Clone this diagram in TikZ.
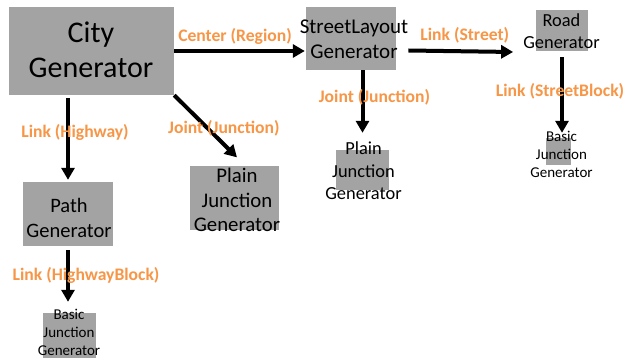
\documentclass[tikz,border=0pt]{standalone}
\usepackage{fontspec}
\setmainfont{Carlito}
\usepackage{tikz}
\usetikzlibrary{arrows.meta,positioning,calc}
\definecolor{boxgray}{RGB}{163,163,163}
\definecolor{linkorange}{RGB}{247,150,70}

\begin{document}
\begin{tikzpicture}[x=1pt, y=-1pt, >={Triangle[length=12pt,width=13pt]}]
\tikzstyle{genbox}=[fill=boxgray, draw=none, inner sep=0pt]
\tikzstyle{gentext}=[inner sep=0pt, align=center, text=black]
\tikzstyle{flow}=[->, draw=black, line width=4pt]
\tikzstyle{link}=[inner sep=0pt, text=linkorange, font=\fontsize{17.6}{20}\selectfont\bfseries]
\fill[white] (0,0) rectangle (626,358);
\useasboundingbox (0,0) rectangle (626,358);

% generator boxes
\node[genbox, minimum width=165pt, minimum height=88pt] (city)    at (91.5,51)    {};
\node[genbox, minimum width=90pt,  minimum height=63pt] (layout)  at (351,38.5)   {};
\node[genbox, minimum width=52pt,  minimum height=41pt] (road)    at (562,30.5)   {};
\node[genbox, minimum width=90pt,  minimum height=64pt] (pathgen) at (68,214)     {};
\node[genbox, minimum width=89pt,  minimum height=64pt] (plainL)  at (234.5,198)  {};
\node[genbox, minimum width=53pt,  minimum height=40pt] (plainR)  at (362.5,170)  {};
\node[genbox, minimum width=25pt,  minimum height=27pt] (basicR)  at (558.5,151.5) {};
\node[genbox, minimum width=53pt,  minimum height=45pt] (basicL)  at (69.5,335.5) {};

% names
\node[gentext, font=\fontsize{30}{35}\selectfont]     (cityT)   at (91,50)      {City\\Generator};
\node[gentext, font=\fontsize{21}{25}\selectfont]     (layoutT) at (354,39.5)   {StreetLayout\\Generator};
\node[gentext, font=\fontsize{18.4}{22}\selectfont]   (roadT)   at (561.5,31)   {Road\\Generator};
\node[gentext, font=\fontsize{20.5}{25}\selectfont]   (pathT)   at (69,217.5)   {Path\\Generator};
\node[gentext, font=\fontsize{20.8}{24.5}\selectfont] (plainLT) at (237,200)     {Plain\\Junction\\Generator};
\node[gentext, font=\fontsize{18.4}{22.5}\selectfont] (plainRT) at (363.5,171)   {Plain\\Junction\\Generator};
\node[gentext, font=\fontsize{15}{18}\selectfont]     (basicRT) at (561.5,154)   {Basic\\Junction\\Generator};
\node[gentext, font=\fontsize{15}{18}\selectfont]     (basicLT) at (69,332.5)    {Basic\\Junction\\Generator};

\path
(city.east) edge[flow, shorten >=1pt] node[link, xshift=-5pt, yshift=15pt] {Center (Region)} (city.east -| layout.west)
([yshift=-11pt]layoutT.east) edge[flow] node[link, xshift=4pt, yshift=16pt] {Link (Street)} ([shift={(-10pt,-21pt)}]roadT.west)
(road.south) edge[flow, shorten <=6pt, shorten >=5pt] node[link, xshift=-2pt, yshift=3.5pt] {Link (StreetBlock)} (road.south |- basicR.north)
(plainR.north |- layout.south) edge[flow, shorten >=17pt] node[link, xshift=12pt, yshift=13pt] {Joint (Junction)} (plainR.north)
(pathgen.north |- city.south) edge[flow, shorten <=3pt, shorten >=2pt] node[link, xshift=7pt, yshift=6.5pt] {Link (Highway)} (pathgen.north)
(city.south east) edge[flow, shorten >=12pt] node[link, xshift=14pt, yshift=2.5pt] {Joint (Junction)} ([xshift=11pt]plainL.north)
(pathgen.south) edge[flow, shorten <=4pt, shorten >=11pt] node[link, xshift=18pt, yshift=4.5pt] {Link (HighwayBlock)} (pathgen.south |- basicL.north);
\end{tikzpicture}
\end{document}
